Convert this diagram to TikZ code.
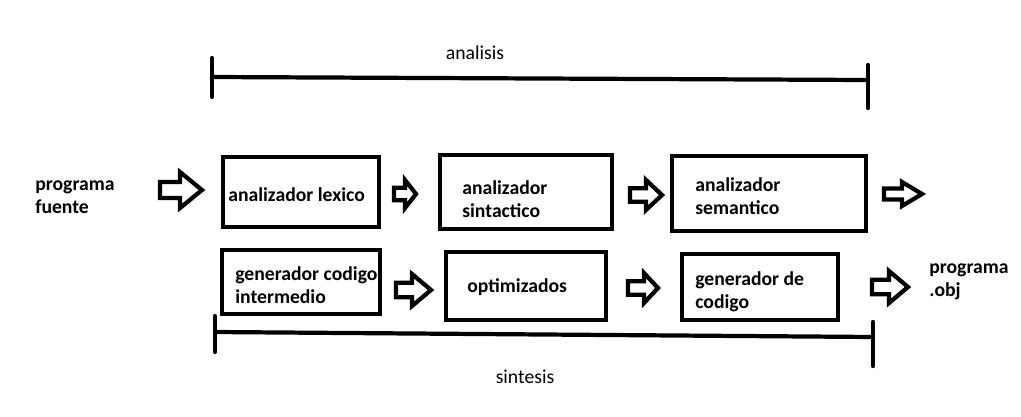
\documentclass[tikz,border=0pt]{standalone}
\usepackage{fontspec}
\setmainfont{Carlito}
% hollow block arrow: left x, middle y, length, head length, head half width
\newcommand{\fatarrow}[5]{%
  \draw[arr] (#1,#2-0.45*#5) -- (#1+#3-#4,#2-0.45*#5) -- (#1+#3-#4,#2-#5)
    -- (#1+#3,#2) -- (#1+#3-#4,#2+#5) -- (#1+#3-#4,#2+0.45*#5)
    -- (#1,#2+0.45*#5) -- cycle;}
\begin{document}
\begin{tikzpicture}[x=0.025cm,y=-0.025cm,
  bx/.style={line width=3.2pt},
  arr/.style={line width=3pt},
  brace/.style={line width=3pt,line cap=round},
  lbl/.style={font=\fontsize{14}{16.5}\selectfont\bfseries,align=left,anchor=west,inner sep=0pt},
  part/.style={font=\fontsize{14}{16.5}\selectfont,inner sep=0pt}]
		\useasboundingbox (0,0) rectangle (1021,416);
		% analisis
		\node[part] (analisis) at (475,53) {analisis};
		\draw[brace] (212,58) -- (212,97);
		\draw[brace] (212,77) -- (868,80);
		\draw[brace] (868,65) -- (868,108);
		% first row
		\node[lbl] (fuente) at (35,197) {programa\\fuente};
		\fatarrow{160}{190}{42}{22}{18}
		\draw[bx] (223,157) rectangle (379,227);
		\node[lbl] (lexico) at (228,195) {analizador lexico};
		\fatarrow{394}{194}{22}{11}{14}
		\draw[bx] (440,155) rectangle (612,229);
		\node[lbl] (sintactico) at (462,199) {analizador\\sintactico};
		\fatarrow{630}{195}{32}{16}{15}
		\draw[bx] (672,156) rectangle (866,231);
		\node[lbl] (semantico) at (695,196) {analizador\\semantico};
		\fatarrow{884}{194}{38}{20}{12}
		% second row
		\draw[bx] (222,250) rectangle (380,314);
		\node[lbl] (intermedio) at (235,285) {generador codigo\\intermedio};
		\fatarrow{396}{290}{35}{19}{16}
		\draw[bx] (446,252) rectangle (606,320);
		\node[lbl] (optimizados) at (467,287) {optimizados};
		\fatarrow{628}{288}{30}{14}{15}
		\draw[bx] (682,254) rectangle (838,320);
		\node[lbl] (codigo) at (695,292) {generador de\\codigo};
		\fatarrow{872}{287}{36}{19}{16}
		\node[lbl] (obj) at (929,282) {programa\\.obj};
		% sintesis
		\draw[brace] (215,316) -- (215,352);
		\draw[brace] (215,332) -- (873,337);
		\draw[brace] (873,322) -- (873,366);
		\node[part] (sintesis) at (525,377) {sintesis};
\end{tikzpicture}
\end{document}
